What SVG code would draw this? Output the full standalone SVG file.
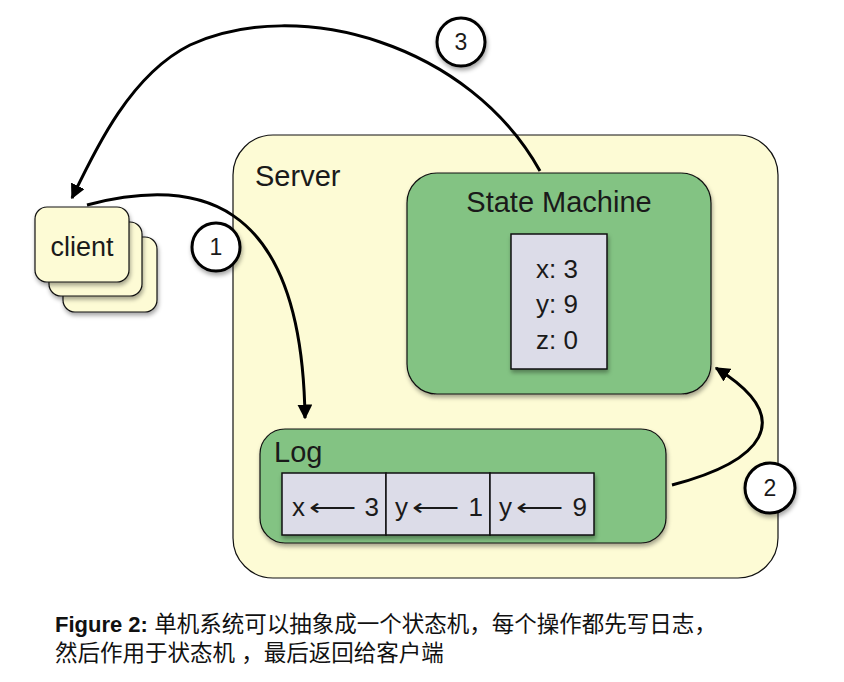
<svg xmlns="http://www.w3.org/2000/svg" width="844" height="682" viewBox="0 0 844 682">
<defs>
<filter id="sh" x="-20%" y="-20%" width="140%" height="140%">
<feDropShadow dx="1" dy="3" stdDeviation="2" flood-color="#000" flood-opacity="0.35"/>
</filter>
<marker id="ah" viewBox="0 0 10 10" refX="9" refY="5" markerWidth="5" markerHeight="5" orient="auto" markerUnits="strokeWidth">
<path d="M0,0 L10,5 L0,10 z" fill="#000"/>
</marker>
<style>
.t{font-family:"Helvetica Neue","Liberation Sans",Arial,sans-serif;fill:#1a1a1a;font-weight:300}
.y{fill:#fdfbd5;stroke:#111;stroke-width:1.2}
.g{fill:#83c383;stroke:#111;stroke-width:1.2}
.c{fill:#dcdce8;stroke:#111;stroke-width:1.5}
.e{fill:none;stroke:#000;stroke-width:3}
.n{fill:#fff;stroke:#000;stroke-width:3}
</style>
</defs>
<rect width="844" height="682" fill="#fff"/>
<g id="server">
<rect class="y" x="233" y="135" width="545" height="443" rx="40"/>
<text class="t" x="255" y="186" font-size="29">Server</text>
</g>
<g id="state-machine">
<rect class="g" x="407" y="173" width="304" height="221" rx="30" filter="url(#sh)"/>
<text class="t" x="559" y="212" font-size="29" text-anchor="middle">State Machine</text>
<rect class="c" x="511" y="234" width="96" height="135" filter="url(#sh)"/>
<text class="t" x="536" y="278" font-size="26">x: 3</text>
<text class="t" x="536" y="313" font-size="26">y: 9</text>
<text class="t" x="536" y="349" font-size="26">z: 0</text>
</g>
<g id="log">
<rect class="g" x="260" y="429" width="406" height="114" rx="25" filter="url(#sh)"/>
<text class="t" x="274" y="462" font-size="29">Log</text>
<g filter="url(#sh)">
<rect class="c" x="282" y="473" width="104" height="62"/>
<rect class="c" x="386" y="473" width="104" height="62"/>
<rect class="c" x="490" y="473" width="104" height="62"/>
</g>
<text class="t" x="292" y="516" font-size="26">x</text>
<text class="t" x="309" y="516" font-size="26" textLength="47" lengthAdjust="spacingAndGlyphs">⟵</text>
<text class="t" x="379" y="516" font-size="26" text-anchor="end">3</text>
<text class="t" x="395" y="516" font-size="26">y</text>
<text class="t" x="412" y="516" font-size="26" textLength="47" lengthAdjust="spacingAndGlyphs">⟵</text>
<text class="t" x="483" y="516" font-size="26" text-anchor="end">1</text>
<text class="t" x="499" y="516" font-size="26">y</text>
<text class="t" x="516" y="516" font-size="26" textLength="47" lengthAdjust="spacingAndGlyphs">⟵</text>
<text class="t" x="587" y="516" font-size="26" text-anchor="end">9</text>
</g>
<g id="client">
<rect class="y" x="63" y="237" width="94" height="75" rx="12" filter="url(#sh)"/>
<rect class="y" x="49" y="222" width="93" height="74" rx="12" filter="url(#sh)"/>
<rect class="y" x="35" y="207" width="94" height="75" rx="12" filter="url(#sh)"/>
<text class="t" x="82" y="256" font-size="27" text-anchor="middle">client</text>
</g>
<g id="connectors">
<path class="e" d="M87,205 C190,178 302,190 305,418" marker-end="url(#ah)"/>
<path class="e" d="M540,171 C470,45 300,-5 190,45 C130,75 95,150 72,198" marker-end="url(#ah)"/>
<path class="e" d="M672,485 C760,462 800,420 716,368" marker-end="url(#ah)"/>
</g>
<g id="label-1">
<circle class="n" cx="216" cy="247" r="24" filter="url(#sh)"/>
<text class="t" x="216" y="255" font-size="23" text-anchor="middle">1</text>
</g>
<g id="label-3">
<circle class="n" cx="461" cy="42" r="24" filter="url(#sh)"/>
<text class="t" x="461" y="50" font-size="23" text-anchor="middle">3</text>
</g>
<g id="label-2">
<circle class="n" cx="770" cy="488" r="25" filter="url(#sh)"/>
<text class="t" x="770" y="496" font-size="23" text-anchor="middle">2</text>
</g>
<g id="caption" font-family="'Liberation Sans','Noto Sans CJK SC',sans-serif" font-size="22.5" fill="#111">
<text x="55" y="632"><tspan font-weight="bold" font-size="22">Figure 2:</tspan> 单机系统可以抽象成一个状态机，每个操作都先写日志，</text>
<text x="55" y="661">然后作用于状态机 ，最后返回给客户端</text>
</g>
</svg>
